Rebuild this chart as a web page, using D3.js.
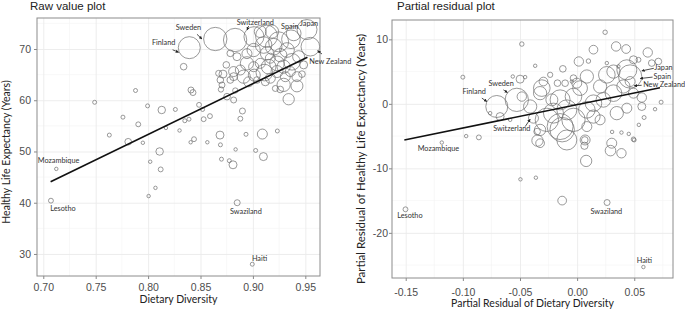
<!DOCTYPE html>
<html>
<head>
<meta charset="utf-8">
<script src="https://cdn.jsdelivr.net/npm/d3@7"></script>
<style>
  body { margin: 0; background: #fff; }
  svg { display: block; }
</style>
</head>
<body>
<svg id="chart" width="685" height="314"></svg>
<script>
// ---- raw value plot: dietary diversity vs healthy life expectancy, bubble weight ----
const rawDiversity = [
  0.749, 0.788, 0.7995, 0.813, 0.826, 0.776, 0.7906, 0.763, 0.781, 0.795,
  0.811, 0.802, 0.812, 0.7124, 0.807, 0.8005, 0.7073, 0.817, 0.83, 0.835,
  0.839, 0.8486, 0.852, 0.859, 0.853, 0.8686, 0.8438, 0.8406, 0.8565, 0.869,
  0.870, 0.8775, 0.881, 0.8835, 0.9026, 0.910, 0.885, 0.8994, 0.890, 0.888,
  0.8934, 0.909, 0.9233, 0.8339, 0.8409, 0.8428,
  0.883, 0.901, 0.913, 0.9245, 0.9363, 0.9516, 0.9548, 0.8641, 0.8393, 0.9102,
  0.9198, 0.9134, 0.9261, 0.9166, 0.907, 0.9293, 0.9373, 0.9007, 0.8943, 0.888,
  0.8816, 0.8746, 0.8714, 0.8784, 0.8912, 0.9013, 0.9109, 0.923, 0.9357, 0.942,
  0.9468, 0.9293, 0.942, 0.9261, 0.9214, 0.9118, 0.9039, 0.8959, 0.8689, 0.8705,
  0.8695, 0.8832, 0.8753, 0.8816, 0.9341, 0.9007, 0.8943, 0.8848, 0.8784, 0.9325,
  0.9436, 0.9182, 0.923, 0.915, 0.9484, 0.9309, 0.9166, 0.8816, 0.8673, 0.9389,
  0.907
];
const rawLife = [
  59.6, 61.9, 58.9, 58.1, 58.2, 56.7, 55.3, 53.2, 51.9, 51.7,
  50.0, 48.0, 46.5, 46.6, 42.9, 41.3, 40.4, 54.6, 54.1, 56.0,
  56.3, 59.1, 58.2, 56.9, 56.3, 53.2, 52.4, 51.8, 51.8, 51.3,
  48.5, 48.2, 47.4, 50.4, 50.2, 49.0, 40.0, 28.0, 57.9, 56.4,
  53.35, 53.4, 54.0, 66.55, 62.0, 61.5,
  71.76, 72.4, 72.5, 71.4, 71.9, 73.8, 70.45, 71.95, 70.26, 70.78,
  70.45, 69.15, 68.8, 68.2, 67.2, 66.55, 67.5, 66.55, 67.2, 65.9,
  65.6, 66.9, 65.1, 63.95, 64.6, 64.9, 65.4, 65.6, 65.6, 64.6,
  65.1, 63.0, 62.8, 62.1, 62.3, 63.6, 63.95, 63.6, 63.95, 62.98,
  62.1, 61.9, 60.7, 60.05, 60.2, 69.8, 69.1, 68.5, 69.15, 69.8,
  68.5, 73.4, 67.2, 66.55, 66.9, 64.6, 64.3, 64.6, 65.25, 73.05,
  73.4
];
const rawWeight = [
  4, 4, 4, 14, 4, 4, 6, 4, 11, 3,
  14, 3, 6, 3, 3, 3, 6, 3, 3, 4,
  4, 6, 4, 6, 6, 16, 6, 3, 3, 4,
  4, 4, 16, 3, 4, 16, 9, 4, 9, 6,
  4, 25, 4, 11, 9, 9,
  136, 100, 121, 100, 87, 100, 87, 136, 121, 69,
  69, 44, 44, 25, 25, 44, 69, 25, 44, 25,
  25, 11, 16, 11, 44, 36, 69, 36, 25, 25,
  11, 44, 36, 11, 9, 16, 11, 25, 11, 9,
  7, 7, 11, 9, 32, 44, 25, 16, 11, 54,
  36, 44, 54, 54, 16, 25, 25, 16, 9, 54,
  36
];
const rawFitX = [0.707, 0.952];
const rawFitY = [44.1, 68.4];

// ---- partial residual plot ----
const resDiversity = [
  -0.1502, -0.1184, -0.0971, -0.086, -0.0496, -0.0361, -0.0131, 0.0262, 0.058, 0.0079,
  0.0292, 0.0388, 0.0064, 0.0067, 0.0306, 0.0388, 0.0452, 0.0499, 0.054, -0.0347,
  -0.035, 0.0245, -0.0484, -0.1, -0.0367, -0.0563, -0.0499, -0.0455, 0.0143, 0.0341,
  0.0429, 0.0618, 0.0015, 0.0099, -0.0125, -0.0236, -0.0172, -0.0295, 0.0493, 0.0537,
  0.0653, 0.0711, 0.0735, 0.0566, 0.0435, 0.0318, 0.026, 0.0201, 0.0318, 0.0405,
  0.0464, 0.0085, 0.0026, -0.0032, -0.0149, -0.009, -0.0207, -0.0265, -0.0032, -0.0149,
  -0.009, 0.0143, 0.023, 0.0143, 0.0085, -0.0003, -0.0032, -0.0324, -0.0309, -0.0411,
  -0.0382, -0.0324, -0.0324, -0.0528, -0.0703, -0.0484, -0.0674, -0.0586, -0.0761, 0.0566,
  0.0586, 0.0493, 0.0303, 0.007, 0.0085, 0.0201, 0.0347, 0.0435, 0.0493, -0.0221,
  0.026, 0.0361, -0.0046, -0.0105, 0.0682, 0.0464, -0.0131
];
const resLife = [
  -16.35, -6.0, -5.0, -5.2, -11.7, -11.45, -15.0, -15.3, -25.3, -8.85,
  -7.25, -7.66, -6.5, -5.6, -4.35, -4.45, -4.66, -5.6, -3.26, -5.7,
  -4.3, 11.1, 9.27, 4.14, 5.9, 4.24, 3.83, 4.15, 8.4, 8.9,
  8.5, 7.97, 6.57, 6.63, 5.43, 4.5, 3.21, 3.46, 6.83, 6.83,
  6.32, 6.57, 0.26, 0.98, 5.28, 5.0, 4.5, 2.69, 1.66, 2.69,
  3.46, 4.24, 2.44, 1.13, 0.62, -0.93, -1.44, -2.48, -2.48, -3.52,
  -5.6, 0.1, 0.62, -1.97, -0.93, 3.21, 3.99, 1.66, 2.44, -0.41,
  -2.22, -4.04, -6.1, 0.62, -0.41, 1.13, -1.97, -2.48, -1.44, -0.41,
  -2.12, -5.48, -6.1, -5.6, -3.52, -2.48, -1.44, -0.67, 1.66, 0.62,
  6.32, 5.8, 3.46, 3.2, -0.83, 4.24, -4.0
];
const resWeight = [
  6, 3, 3, 6, 3, 3, 19, 9, 3, 32,
  28, 22, 13, 11, 3, 3, 3, 4, 3, 32,
  11, 5, 5, 4, 3, 3, 16, 3, 19, 22,
  19, 22, 22, 5, 11, 7, 11, 19, 16, 6,
  11, 11, 4, 22, 100, 44, 69, 44, 69, 44,
  25, 44, 54, 69, 100, 100, 100, 136, 136, 169,
  100, 69, 54, 44, 69, 25, 11, 44, 69, 44,
  25, 32, 19, 136, 121, 22, 16, 3, 3, 16,
  4, 5, 25, 25, 25, 25, 44, 25, 25, 36,
  3, 3, 3, 11, 3, 136, 150
];
const resFitX = [-0.1512, 0.0725];
const resFitY = [-5.6, 2.5];

// ---- ticks ----
const rawXTicks = [0.70, 0.75, 0.80, 0.85, 0.90, 0.95];
const rawXMinor = [0.725, 0.775, 0.825, 0.875, 0.925];
const rawYTicks = [30, 40, 50, 60, 70];
const rawYMinor = [35, 45, 55, 65, 75];
const resXTicks = [-0.15, -0.10, -0.05, 0.00, 0.05];
const resXMinor = [-0.125, -0.075, -0.025, 0.025, 0.075];
const resYTicks = [-20, -10, 0, 10];
const resYMinor = [-25, -15, -5, 5];

// ---- country labels: name, x, y of the arrow tip / point ----
const rawLabels = [
  {name: "Finland", x: 0.8291, y: 69.36, lx: -15, ly: -9.5, ax: -6, ay: -2.5},
  {name: "Sweden", x: 0.8514, y: 71.95, lx: -13.5, ly: -11, ax: -5, ay: -4.7},
  {name: "Switzerland", x: 0.8944, y: 73.7, lx: 8.3, ly: -7.3, ax: 1.6, ay: -4},
  {name: "Spain", x: 0.9385, y: 73.3, lx: -3.5, ly: -5},
  {name: "Japan", x: 0.9516, y: 73.8, lx: 2, ly: -5},
  {name: "New Zealand", x: 0.9617, y: 69.67, lx: 12.7, ly: 11, ax: 4.4, ay: 3.3},
  {name: "Mozambique", x: 0.7124, y: 46.6, lx: 2.3, ly: -7.3},
  {name: "Lesotho", x: 0.7073, y: 40.4, lx: 12, ly: 8.3},
  {name: "Swaziland", x: 0.885, y: 40.0, lx: 8.7, ly: 9.6},
  {name: "Haiti", x: 0.8994, y: 28.0, lx: 7.3, ly: -5}
];
const resLabels = [
  {name: "Finland", x: -0.079, y: 0.36, lx: -12.7, ly: -9, ax: -5, ay: -3.4},
  {name: "Sweden", x: -0.061, y: 1.75, lx: -6.3, ly: -8.4, ax: -4, ay: -2.7},
  {name: "Switzerland", x: -0.0411, y: -2.38, lx: -18.3, ly: 10, ax: -5, ay: 7.4},
  {name: "Japan", x: 0.0566, y: 5.12, lx: 12.5, ly: -2.5, ax: 12, ay: -2.5, anchor: "start"},
  {name: "Spain", x: 0.0551, y: 3.93, lx: 13.5, ly: -1.4, ax: 12.5, ay: -1.4, anchor: "start"},
  {name: "New Zealand", x: 0.0499, y: 2.8, lx: 9, ly: -0.3, ax: 7.5, ay: -0.5, anchor: "start"}
  ,
  {name: "Mozambique", x: -0.1184, y: -6.0, lx: -3.4, ly: 6.3},
  {name: "Lesotho", x: -0.1502, y: -16.35, lx: 4.4, ly: 6.4},
  {name: "Swaziland", x: 0.0262, y: -15.3, lx: -0.7, ly: 10},
  {name: "Haiti", x: 0.058, y: -25.3, lx: 1, ly: -6.3}
];

const svg = d3.select("#chart");

svg.append("defs").append("marker")
  .attr("id", "arrow")
  .attr("viewBox", "0 0 10 10")
  .attr("refX", 9).attr("refY", 5)
  .attr("markerWidth", 4).attr("markerHeight", 4)
  .attr("orient", "auto")
  .append("path")
    .attr("d", "M0,0 L10,5 L0,10 z")
    .attr("fill", "#222");

const size = d3.scaleSqrt().domain([0, 169]).range([0, 13]);
const fmt = d3.format(".2f");
const dash = s => s.replace("\u2212", "-");

function draw_panel(p) {
  const x = d3.scaleLinear().domain(p.xDomain).range([p.left, p.right]);
  const y = d3.scaleLinear().domain(p.yDomain).range([p.bottom, p.top]);
  const g = svg.append("g");

  // grid
  g.selectAll(".minx").data(p.xMinor.filter(v => x(v) > p.left && x(v) < p.right)).enter()
    .append("line")
      .attr("x1", d => x(d)).attr("x2", d => x(d))
      .attr("y1", p.top).attr("y2", p.bottom)
      .attr("stroke", "#f4f4f4").attr("stroke-width", 0.6);
  g.selectAll(".miny").data(p.yMinor.filter(v => y(v) > p.top && y(v) < p.bottom)).enter()
    .append("line")
      .attr("y1", d => y(d)).attr("y2", d => y(d))
      .attr("x1", p.left).attr("x2", p.right)
      .attr("stroke", "#f4f4f4").attr("stroke-width", 0.6);

  g.append("g")
    .attr("transform", `translate(0,${p.bottom})`)
    .call(d3.axisBottom(x).tickValues(p.xTicks).tickSize(-(p.bottom - p.top)).tickFormat(""))
    .call(a => a.select(".domain").remove())
    .call(a => a.selectAll("line").attr("stroke", "#ebebeb").attr("stroke-width", 0.9));
  g.append("g")
    .attr("transform", `translate(${p.left},0)`)
    .call(d3.axisLeft(y).tickValues(p.yTicks).tickSize(-(p.right - p.left)).tickFormat(""))
    .call(a => a.select(".domain").remove())
    .call(a => a.selectAll("line").attr("stroke", "#ebebeb").attr("stroke-width", 0.9));

  // ticks and labels
  g.append("g")
    .attr("transform", `translate(0,${p.bottom})`)
    .call(d3.axisBottom(x).tickValues(p.xTicks).tickSize(3).tickPadding(p.xPad).tickFormat(d => dash(fmt(d))))
    .call(a => a.select(".domain").remove())
    .call(a => a.selectAll("line").attr("stroke", "#888"))
    .call(a => a.selectAll("text").attr("fill", "#4d4d4d")
      .style("font-family", "Liberation Sans, Arial, sans-serif").style("font-size", "10.5px"));
  g.append("g")
    .attr("transform", `translate(${p.left},0)`)
    .call(d3.axisLeft(y).tickValues(p.yTicks).tickSize(3).tickPadding(p.yPad).tickFormat(d => dash(d3.format("d")(d))))
    .call(a => a.select(".domain").remove())
    .call(a => a.selectAll("line").attr("stroke", "#888"))
    .call(a => a.selectAll("text").attr("fill", "#4d4d4d")
      .style("font-family", "Liberation Sans, Arial, sans-serif").style("font-size", "10.5px"));

  // bubbles
  const pts = p.xs.map((v, i) => ({x: v, y: p.ys[i], w: p.ws[i]}));
  g.selectAll("circle.pt").data(pts).enter()
    .append("circle")
      .attr("cx", d => x(d.x))
      .attr("cy", d => y(d.y))
      .attr("r", d => size(d.w))
      .attr("fill", "none")
      .attr("stroke", "#6e6e6e")
      .attr("stroke-width", 0.7);

  // fitted line
  const line = d3.line().x(d => x(d[0])).y(d => y(d[1]));
  g.append("path")
    .attr("d", line(p.fitX.map((v, i) => [v, p.fitY[i]])))
    .attr("stroke", "#111").attr("stroke-width", 1.6).attr("fill", "none");

  // panel border
  g.append("rect")
    .attr("x", p.left).attr("y", p.top)
    .attr("width", p.right - p.left).attr("height", p.bottom - p.top)
    .attr("fill", "none").attr("stroke", "#8c8c8c").attr("stroke-width", 1);

  // country annotations
  p.labels.forEach(l => {
    const sx = x(l.x), sy = y(l.y);
    if (l.ax !== undefined) {
      g.append("line")
        .attr("x1", sx + l.ax).attr("y1", sy + l.ay)
        .attr("x2", sx).attr("y2", sy)
        .attr("stroke", "#222").attr("stroke-width", 0.8)
        .attr("marker-end", "url(#arrow)");
    }
    g.append("text")
      .attr("x", sx + l.lx).attr("y", sy + l.ly)
      .attr("text-anchor", l.anchor || "middle")
      .attr("dominant-baseline", "middle")
      .attr("fill", "#333")
      .style("font-family", "Lato, sans-serif").style("font-size", "7.3px")
      .text(l.name);
  });

  // titles
  svg.append("text")
    .attr("x", p.titleX).attr("y", 10)
    .style("font-family", "Liberation Sans, Arial, sans-serif").style("font-size", "11.5px")
    .attr("fill", "#222")
    .text(p.title);
  svg.append("text")
    .attr("x", (p.left + p.right) / 2).attr("y", p.xTitleY)
    .attr("text-anchor", "middle")
    .style("font-family", "Lato, sans-serif").style("font-size", "10.5px")
    .attr("fill", "#222")
    .text(p.xTitle);
  svg.append("text")
    .attr("transform", `translate(${p.yTitleX},${p.yTitleY}) rotate(-90)`)
    .attr("text-anchor", "middle")
    .style("font-family", "Lato, sans-serif").style("font-size", p.yTitleSize)
    .attr("fill", "#222")
    .text(p.yTitle);
}

draw_panel({
  left: 37, right: 320, top: 18, bottom: 276,
  xDomain: [0.694, 0.964], yDomain: [25.7, 76.05],
  xTicks: rawXTicks, xMinor: rawXMinor, yTicks: rawYTicks, yMinor: rawYMinor,
  xPad: 5, yPad: 3,
  xs: rawDiversity, ys: rawLife, ws: rawWeight,
  fitX: rawFitX, fitY: rawFitY, labels: rawLabels,
  title: "Raw value plot", titleX: 30,
  xTitle: "Dietary Diversity", xTitleY: 303,
  yTitle: "Healthy Life Expectancy (Years)", yTitleX: 10, yTitleY: 152, yTitleSize: "10.5px"
});

draw_panel({
  left: 392, right: 673, top: 20, bottom: 278,
  xDomain: [-0.162, 0.0839], yDomain: [-27.0, 13.0],
  xTicks: resXTicks, xMinor: resXMinor, yTicks: resYTicks, yMinor: resYMinor,
  xPad: 8, yPad: 1,
  xs: resDiversity, ys: resLife, ws: resWeight,
  fitX: resFitX, fitY: resFitY, labels: resLabels,
  title: "Partial residual plot", titleX: 397,
  xTitle: "Partial Residual of Dietary Diversity", xTitleY: 307,
  yTitle: "Partial Residual of Healthy Life Expectancy (Years)", yTitleX: 365, yTitleY: 159, yTitleSize: "11.5px"
});
</script>
</body>
</html>
